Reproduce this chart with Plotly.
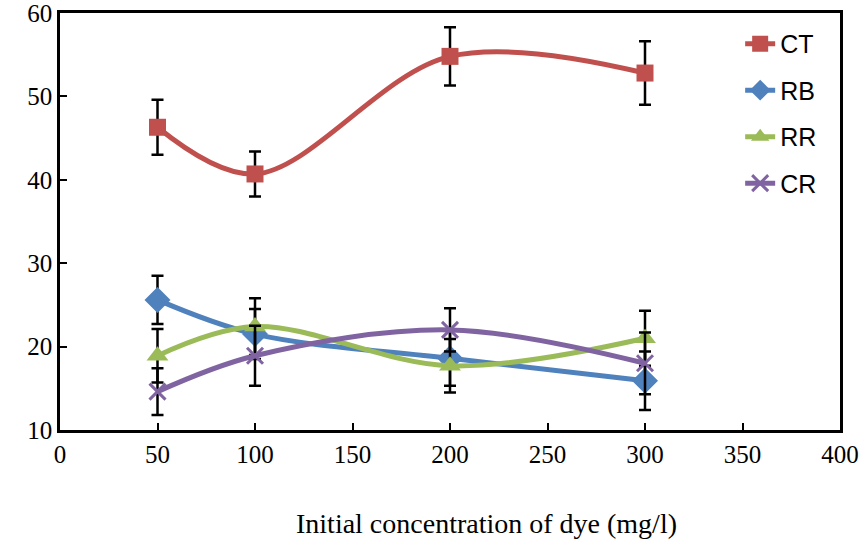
import plotly.graph_objects as go

x_vals = [50, 100, 200, 300]
ct = [46.3, 40.7, 54.8, 52.8]
ct_err = [3.3, 2.7, 3.5, 3.8]
rb = [25.6, 21.5, 18.6, 15.9]
rb_err = [2.9, 3.0, 3.3, 3.5]
rr = [18.9, 22.4, 17.7, 21.0]
rr_err = [3.2, 3.4, 3.2, 3.3]
cr = [14.6, 18.9, 22.0, 18.0]
cr_err = [2.8, 3.6, 2.6, 3.7]

x_ticks = [0, 50, 100, 150, 200, 250, 300, 350, 400]
y_ticks = [10, 20, 30, 40, 50, 60]

series = [
    ("CT", ct, ct_err, "#C0504D", "square", 17, 0),
    ("RB", rb, rb_err, "#4F81BD", "diamond", 20, 0),
    ("RR", rr, rr_err, "#9BBB59", "triangle-up", 19, 0),
    ("CR", cr, cr_err, "#8064A2", "x-thin", 16, 3),
]

fig = go.Figure()
for name, vals, err, color, sym, size, lw in series:
    marker = dict(symbol=sym, size=size, color=color)
    if sym == "x-thin":
        marker["line"] = dict(color=color, width=lw)
    fig.add_trace(go.Scatter(
        x=x_vals, y=vals, name=name, legendgroup=name,
        mode="lines+markers",
        line=dict(color=color, width=5, shape="spline", smoothing=1.0),
        marker=marker,
        error_y=dict(type="data", array=err, visible=True, color="black",
                     thickness=2.5, width=6),
    ))

axis_common = dict(showgrid=False, zeroline=False, showline=True, linecolor="black",
                   linewidth=2.5, mirror=True, ticks="inside", ticklen=7,
                   tickwidth=2, tickcolor="black", automargin=False,
                   ticklabeloverflow="allow",
                   tickfont=dict(family="Liberation Serif, Times New Roman, serif",
                                 size=25, color="black"))

fig.update_xaxes(range=[0, 400], tickvals=x_ticks, ticktext=[str(v) for v in x_ticks],
                 **axis_common)
fig.update_yaxes(range=[10, 60], tickvals=y_ticks, ticktext=[str(v) for v in y_ticks],
                 **axis_common)

fig.add_annotation(text="Initial concentration of dye (mg/l)", xref="paper", yref="paper",
                   x=0.547, y=-0.225, xanchor="center", yanchor="middle", showarrow=False,
                   font=dict(family="Liberation Serif, Times New Roman, serif", size=28,
                             color="black"))

fig.update_layout(
    width=862, height=551,
    margin=dict(l=60, r=22, t=13, b=121),
    paper_bgcolor="white", plot_bgcolor="white",
    showlegend=True,
    legend=dict(x=0.872, y=0.981, xanchor="left", yanchor="top",
                traceorder="grouped", tracegroupgap=11,
                bgcolor="rgba(0,0,0,0)",
                font=dict(family="Liberation Sans, Arial, sans-serif",
                          size=25, color="black")),
)

fig.write_html("out.html")
